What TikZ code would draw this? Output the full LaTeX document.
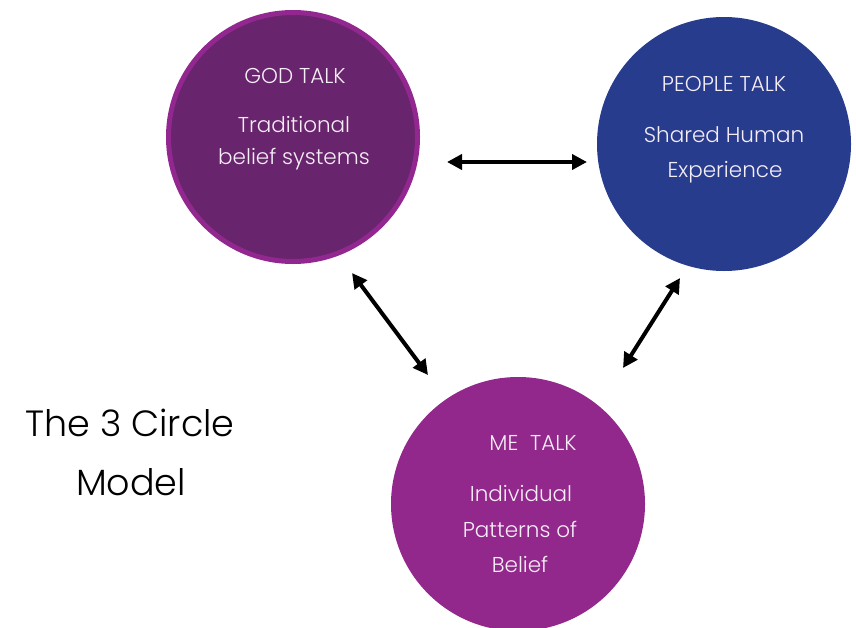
\documentclass[tikz,border=0pt]{standalone}
\usepackage{fontspec}
\setmainfont{Poppins Light}
\usetikzlibrary{arrows.meta}
\definecolor{godfill}{HTML}{68246C}
\definecolor{godrim}{HTML}{92278F}
\definecolor{peoplefill}{HTML}{283C8E}
\definecolor{mefill}{HTML}{92278C}
\definecolor{softwhite}{HTML}{F6EEF6}
\tikzset{
  bubble/.style={circle, inner sep=0pt, minimum size=254pt},
  label/.style={text=softwhite, font=\fontsize{21.5}{24}\selectfont, anchor=base, inner sep=0pt},
  big/.style={text=black, font=\fontsize{36.5}{40}\selectfont, anchor=base, inner sep=0pt},
  link/.style={line width=4pt, {Triangle[length=15pt,width=15pt]}-{Triangle[length=15pt,width=15pt]}}
}
\begin{document}
\begin{tikzpicture}[x=1pt,y=-1pt]
\useasboundingbox (0,0) rectangle (856,627);
\node[bubble, minimum size=249pt, fill=godfill, draw=godrim, line width=5pt] (god) at (293,137) {};
\node[bubble, fill=peoplefill] (people) at (724,144) {};
\node[bubble, fill=mefill] (me) at (518,504) {};

\node[label] (godt) at (295,83) {GOD TALK};
\node[label] (god1) at (294,132) {Traditional};
\node[label] (god2) at (294,164) {belief systems};

\node[label] (peot) at (724,91) {PEOPLE TALK};
\node[label] (peo1) at (724,142) {Shared Human};
\node[label] (peo2) at (725,177) {Experience};

\node[label] (met) at (533,450) {ME\ \ TALK};
\node[label] (me1) at (521,501) {Individual};
\node[label] (me2) at (520,537) {Patterns of};
\node[label] (me3) at (520,572) {Belief};

\node[big] (title1) at (130,436) {The 3 Circle};
\node[big] (title2) at (131,495) {Model};

\coordinate (a1s) at (447,162);
\coordinate (a1e) at (587,162);
\coordinate (a2s) at (352,273);
\coordinate (a2e) at (428,375);
\coordinate (a3s) at (680,278);
\coordinate (a3e) at (623,368);
\draw[link] (a1s) -- (a1e);
\draw[link] (a2s) -- (a2e);
\draw[link] (a3s) -- (a3e);
\end{tikzpicture}
\end{document}
